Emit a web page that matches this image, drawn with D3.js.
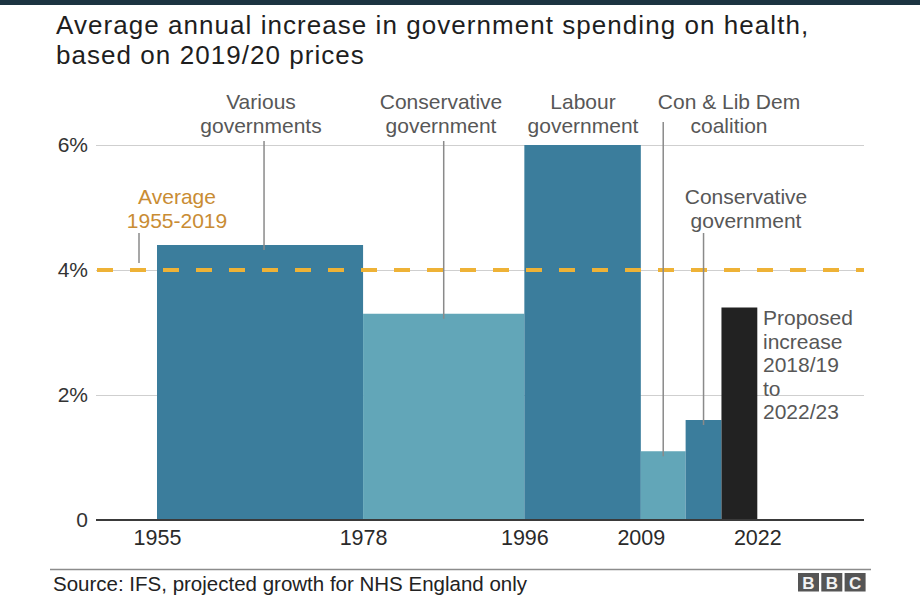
<!DOCTYPE html>
<html>
<head>
<meta charset="utf-8">
<script src="https://cdn.jsdelivr.net/npm/d3@7"></script>
<style>
  body { margin: 0; background: #fff; }
  svg { display: block; font-family: "Liberation Sans", Arial, Helvetica, sans-serif; }
</style>
</head>
<body>
<svg id="chart" width="920" height="600"></svg>
<script>
// periods of government and average annual real growth (%)
var periodStart = [1955, 1978, 1996, 2009, 2014, 2018];
var periodEnd   = [1978, 1996, 2009, 2014, 2018, 2022];
var growth      = [4.4, 3.3, 6.0, 1.1, 1.6, 3.4];
var barKind     = ["dark", "light", "dark", "light", "dark", "proposed"];
var average     = 4.0;

var yTicks = [0, 2, 4, 6];
var xTicks = [1955, 1978, 1996, 2009, 2022];

var titleLines  = ["Average annual increase in government spending on health,", "based on 2019/20 prices"];
var sourceText  = "Source: IFS, projected growth for NHS England only";
var avgLabel    = ["Average", "1955-2019"];
var periodLabel = [
    ["Various", "governments"],
    ["Conservative", "government"],
    ["Labour", "government"],
    ["Con & Lib Dem", "coalition"],
    ["Conservative", "government"],
    ["Proposed", "increase", "2018/19", "to", "2022/23"]
];

var svg = d3.select("#chart"),
    plotLeft = 96, plotRight = 864, plotTop = 145, plotBottom = 520;

var x = d3.scaleLinear().domain([1955, 2022]).range([157, 757.3]);
var y = d3.scaleLinear().domain([0, 6]).range([plotBottom, plotTop]);
var fill = { dark: "#3b7d9c", light: "#62a6b8", proposed: "#222222" };

// dark strip at the very top
svg.append("rect").attr("x", 0).attr("y", 0).attr("width", 920).attr("height", 5).attr("fill", "#1c3441");

// title
svg.append("g").selectAll("text").data(titleLines).enter().append("text")
    .attr("x", 56).attr("y", function (d, i) { return 34 + i * 29.5; })
    .attr("font-size", 26).attr("letter-spacing", 1.05).attr("fill", "#1e1e1e")
    .text(function (d) { return d; });

// y axis + gridlines
var yAxis = svg.append("g").attr("transform", "translate(" + plotLeft + ",0)")
    .call(d3.axisLeft(y).tickValues(yTicks)
        .tickFormat(function (d) { return d === 0 ? "0" : d + "%"; })
        .tickSize(-(plotRight - plotLeft)).tickPadding(8));
yAxis.select(".domain").remove();
yAxis.selectAll(".tick line").attr("stroke", "#cfcfcf").attr("stroke-width", 1);
yAxis.selectAll(".tick text").attr("font-size", 21).attr("fill", "#333").attr("font-family", null);

// bars
var bars = periodStart.map(function (s, i) {
    return { start: s, end: periodEnd[i], value: growth[i], kind: barKind[i] };
});
svg.append("g").selectAll("rect").data(bars).enter().append("rect")
    .attr("x", function (d) { return x(d.start); })
    .attr("width", function (d) { return x(d.end) - x(d.start); })
    .attr("y", function (d) { return y(d.value); })
    .attr("height", function (d) { return y(0) - y(d.value); })
    .attr("fill", function (d) { return fill[d.kind]; });

// baseline
svg.append("line").attr("x1", plotLeft).attr("x2", plotRight).attr("y1", y(0)).attr("y2", y(0))
    .attr("stroke", "#3a3a3a").attr("stroke-width", 2);

// x axis labels
var xAxis = svg.append("g").attr("transform", "translate(0," + plotBottom + ")")
    .call(d3.axisBottom(x).tickValues(xTicks).tickFormat(d3.format("d")).tickSize(0).tickPadding(10));
xAxis.select(".domain").remove();
xAxis.selectAll(".tick text").attr("font-size", 21.5).attr("fill", "#2a2a2a").attr("font-family", null);

// average line
svg.append("line").attr("x1", plotLeft + 1).attr("x2", plotRight).attr("y1", y(average)).attr("y2", y(average))
    .attr("stroke", "#eeb236").attr("stroke-width", 4).attr("stroke-dasharray", "16,17");

// label helpers
var lead = "#8a8a8a";
function label(lines, cx, y0, step, anchor, color) {
    svg.append("g").selectAll("text").data(lines).enter().append("text")
        .attr("x", cx).attr("y", function (d, i) { return y0 + i * step; })
        .attr("text-anchor", anchor).attr("font-size", 21).attr("fill", color)
        .text(function (d) { return d; });
}
function leader(xPos, y1, y2) {
    svg.append("line").attr("x1", xPos).attr("x2", xPos).attr("y1", y1).attr("y2", y2)
        .attr("stroke", lead).attr("stroke-width", 1.5);
}
function mid(i) { return x((periodStart[i] + periodEnd[i]) / 2); }

// average annotation
label(avgLabel, 177, 204, 24, "middle", "#c98c33");
leader(139, 233, 263);

// period annotations
label(periodLabel[0], 261, 109, 24, "middle", "#575757");
leader(mid(0) + 4, 141, y(growth[0]) + 5);
label(periodLabel[1], 441, 109, 24, "middle", "#575757");
leader(mid(1), 141, y(growth[1]) + 5);
label(periodLabel[2], 583, 109, 24, "middle", "#575757");
label(periodLabel[3], 729, 109, 24, "middle", "#575757");
leader(mid(3), 122, y(growth[3]) + 5);
label(periodLabel[4], 746, 204, 24, "middle", "#575757");
leader(mid(4), 233, y(growth[4]) + 5);
label(periodLabel[5], 763, 325, 23.5, "start", "#575757");

// footer
svg.append("line").attr("x1", 50).attr("x2", 871).attr("y1", 569.5).attr("y2", 569.5)
    .attr("stroke", "#8c8c8c").attr("stroke-width", 1.5);
svg.append("text").attr("x", 53).attr("y", 591).attr("font-size", 20.5).attr("fill", "#222")
    .text(sourceText);

var logo = svg.append("g").attr("transform", "translate(798,573)");
["B", "B", "C"].forEach(function (ch, i) {
    logo.append("rect").attr("x", i * 23.3).attr("y", 0).attr("width", 21).attr("height", 18.5).attr("fill", "#555");
    logo.append("text").attr("x", i * 23.3 + 10.5).attr("y", 15.5).attr("text-anchor", "middle")
        .attr("font-size", 17).attr("font-weight", "bold").attr("fill", "#f2f2f2").text(ch);
});
</script>
</body>
</html>
